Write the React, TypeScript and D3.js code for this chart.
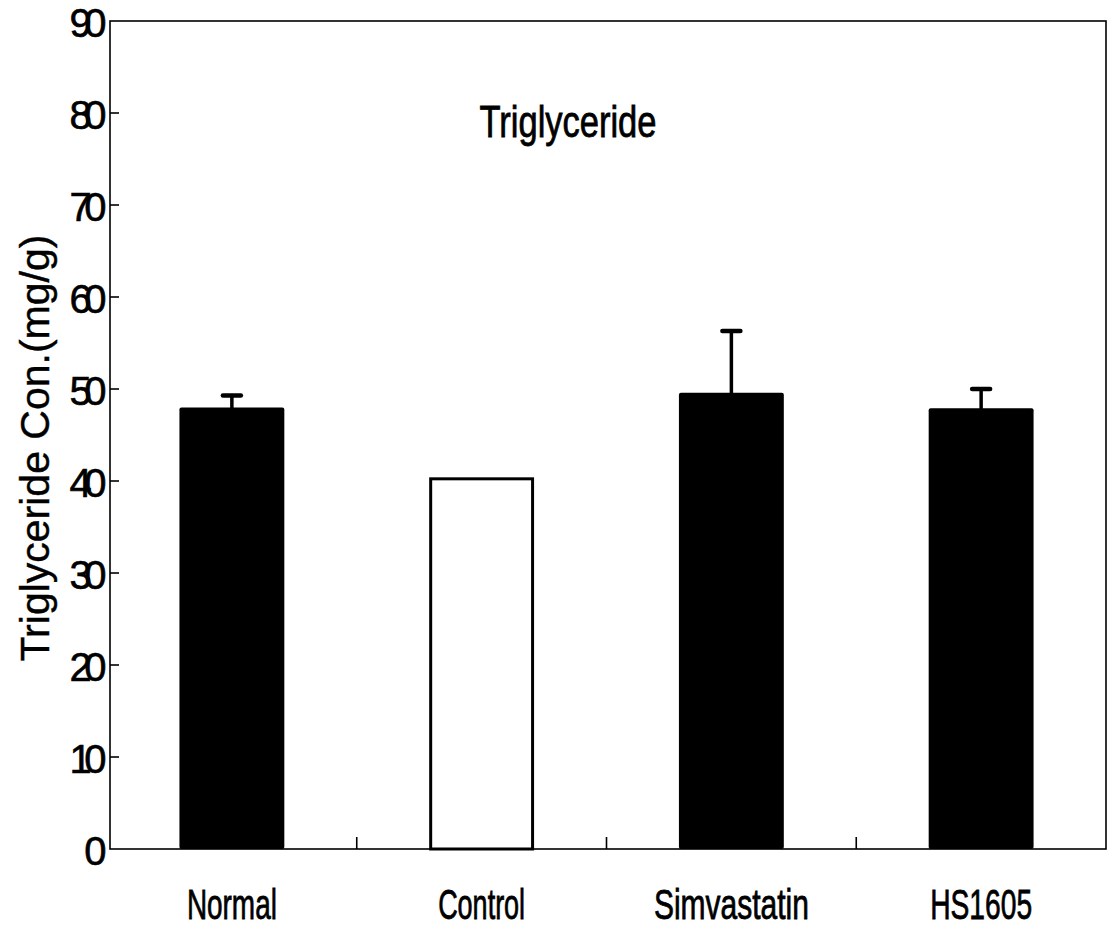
import React from "react";
import * as d3 from "d3";

const categories = ["Normal", "Control", "Simvastatin", "HS1605"];
const means = [48.0, 40.4, 49.6, 47.9];
const errors = [1.3, 0, 6.7, 2.1];
const fills = ["black", "white", "black", "black"];
const yTicks = [0, 10, 20, 30, 40, 50, 60, 70, 80, 90];
const chartTitle = "Triglyceride";
const yTitle = "Triglyceride Con.(mg/g)";
const labelWidths = [90, 87, 155, 102];

const W = 1113;
const H = 935;
const left = 110;
const right = 1106;
const top = 21;
const bottom = 849;
const FONT = "'Liberation Sans', Arial, sans-serif";

export default function App() {
  const x = d3
    .scaleBand<string>()
    .domain(categories)
    .range([left - 3, right])
    .paddingInner(0.58)
    .paddingOuter(0.29);
  const y = d3.scaleLinear().domain([0, 90]).range([bottom, top]);
  const step = x.step();
  const gap = step - x.bandwidth();
  const boundaries = categories.slice(1).map((c) => (x(c) as number) - gap / 2);

  return (
    <svg width={W} height={H} style={{ display: "block", position: "absolute", left: 0, top: 0 }}>
      <rect x={0} y={0} width={W} height={H} fill="white" />
      {/* bars */}
      {categories.map((c, i) => {
        const bx = x(c) as number;
        const bw = x.bandwidth();
        const isWhite = fills[i] === "white";
        return (
          <rect
            key={c}
            x={isWhite ? bx + 1.5 : bx}
            y={isWhite ? y(means[i]) + 1.5 : y(means[i])}
            width={isWhite ? bw - 3 : bw}
            height={isWhite ? y(0) - y(means[i]) - 1.5 : y(0) - y(means[i])}
            fill={fills[i]}
            stroke="black"
            strokeWidth={isWhite ? 3 : 0}
            rx={isWhite ? 0 : 2}
          />
        );
      })}
      {/* error bars */}
      {categories.map((c, i) =>
        errors[i] > 0 ? (
          <g key={"e" + c} stroke="black" strokeLinecap="round">
            <line
              x1={(x(c) as number) + x.bandwidth() / 2}
              x2={(x(c) as number) + x.bandwidth() / 2}
              y1={y(means[i])}
              y2={y(means[i] + errors[i])}
              strokeWidth={3.5}
            />
            <line
              x1={(x(c) as number) + x.bandwidth() / 2 - 9}
              x2={(x(c) as number) + x.bandwidth() / 2 + 9}
              y1={y(means[i] + errors[i])}
              y2={y(means[i] + errors[i])}
              strokeWidth={4.5}
            />
          </g>
        ) : null
      )}
      {/* frame */}
      <rect x={left} y={top} width={right - left} height={bottom - top} fill="none" stroke="black" strokeWidth={1.6} />
      {/* y ticks */}
      {yTicks.map((t) => (
        <g key={"yt" + t}>
          {t > 0 && t < 90 ? (
            <line x1={left} x2={left + 9} y1={y(t)} y2={y(t)} stroke="black" strokeWidth={1.6} />
          ) : null}
          <text
            x={99}
            y={y(t)}
            dy="0.4em"
            textAnchor="end"
            fontFamily={FONT}
            fontSize={40}
            letterSpacing={-7.5}
            fill="black"
            stroke="black"
            strokeWidth={0.6}
          >
            {t}
          </text>
        </g>
      ))}
      {/* x ticks at band boundaries */}
      {boundaries.map((b, i) => (
        <line key={"xt" + i} x1={b} x2={b} y1={bottom} y2={bottom - 12} stroke="black" strokeWidth={1.6} />
      ))}
      {/* x labels */}
      {categories.map((c, i) => (
        <text
          key={"xl" + c}
          x={(x(c) as number) + x.bandwidth() / 2}
          y={919}
          textAnchor="middle"
          fontFamily={FONT}
          fontSize={42}
          textLength={labelWidths[i]}
          lengthAdjust="spacingAndGlyphs"
          fill="black"
          stroke="black"
          strokeWidth={0.8}
        >
          {c}
        </text>
      ))}
      {/* chart title */}
      <text
        x={568}
        y={137}
        textAnchor="middle"
        fontFamily={FONT}
        fontSize={44}
        textLength={177}
        lengthAdjust="spacingAndGlyphs"
        fill="black"
        stroke="black"
        strokeWidth={0.8}
      >
        {chartTitle}
      </text>
      {/* y title */}
      <text
        transform={`translate(49, 448) rotate(-90)`}
        textAnchor="middle"
        fontFamily={FONT}
        fontSize={41}
        fill="black"
        stroke="black"
        strokeWidth={0.4}
      >
        {yTitle}
      </text>
    </svg>
  );
}
